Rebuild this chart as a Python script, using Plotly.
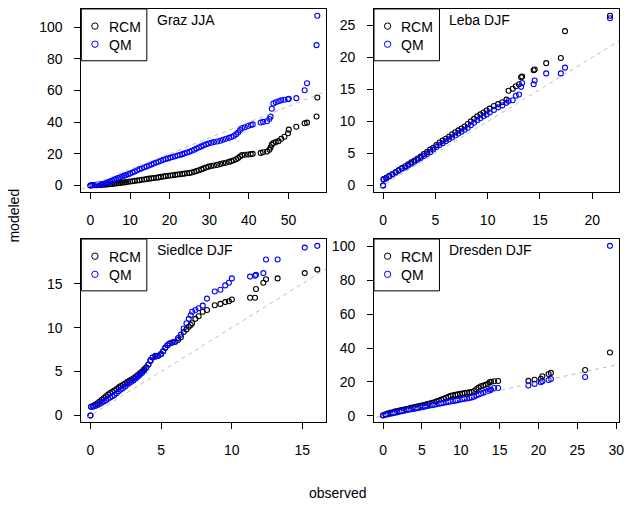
import plotly.graph_objects as go

# ---------------- data ----------------
graz_obs = [0, 0.5, 1, 1.5, 2, 2.5, 3, 3.5, 4, 4.5,
            5, 5.5, 6, 6.5, 7, 7.5, 8, 8.5, 9, 9.5,
            10, 10.6, 11.2, 11.8, 12.4, 13, 13.6, 14.2, 14.8, 15.4,
            16, 16.6, 17.2, 17.8, 18.4, 19, 19.6, 20.2, 20.8, 21.4,
            22, 22.6, 23.2, 23.8, 24.4, 25, 25.6, 26.2, 26.8, 27.4,
            28, 28.6, 29.2, 29.8, 30.5, 31.2, 32, 32.8, 33.5, 34.2,
            35, 35.6, 36.2, 36.8, 37.3, 37.8, 38.3, 39, 39.8, 40.5,
            41, 43, 43.6, 44.6, 45.2, 45.5, 45.8, 46.2, 46.8, 47.5,
            48.2, 49, 49.9, 50.1, 52, 54.1, 54.7, 57.1, 57.3]
graz_rcm = [0, 0.1, 0.2, 0.2, 0.3, 0.3, 0.4, 0.5, 0.6, 0.7,
            0.9, 1.0, 1.2, 1.3, 1.5, 1.6, 1.8, 1.9, 2.1, 2.3,
            2.5, 2.7, 2.9, 3.1, 3.3, 3.6, 3.8, 4.1, 4.3, 4.5,
            4.7, 4.9, 5.1, 5.4, 5.7, 5.9, 6.1, 6.3, 6.5, 6.7,
            6.9, 7.1, 7.3, 7.5, 7.7, 7.9, 8.2, 8.6, 9.1, 9.6,
            10.2, 10.8, 11.4, 11.9, 12.3, 12.6, 13.0, 13.5, 14.0, 14.4,
            14.9, 15.4, 15.9, 16.6, 17.3, 18.3, 19.2, 19.4, 19.6, 19.8,
            20.0, 20.6, 21.0, 21.4, 22.5, 24.0, 25.8, 26.8, 27.4, 28.0,
            29.5, 30.8, 33.0, 35.3, 37.1, 39.3, 39.7, 43.6, 55.6]
graz_qm = [0, 0.2, 0.3, 0.4, 0.5, 0.7, 0.9, 1.2, 1.6, 2.1,
           2.6, 3.1, 3.7, 4.2, 4.7, 5.2, 5.7, 6.2, 6.6, 7.1,
           7.5, 8.2, 8.9, 9.6, 10.3, 10.9, 11.5, 12.0, 12.6, 13.3,
           13.9, 14.5, 15.0, 15.6, 16.2, 16.7, 17.1, 17.6, 18.0, 18.5,
           18.9, 19.3, 19.8, 20.3, 20.8, 21.3, 21.9, 22.6, 23.3, 24.0,
           24.7, 25.4, 26.0, 26.5, 27.0, 27.4, 27.8, 28.3, 28.9, 29.5,
           30.1, 30.6, 31.3, 32.3, 33.5, 35.0, 36.3, 36.8, 37.6, 38.2,
           38.6, 39.8, 40.2, 40.6, 42.0, 43.5, 48.5, 51.8, 52.6, 53.2,
           53.8, 54.2, 54.5, 54.8, 55.2, 60.2, 64.6, 88.7, 107.3]

leba_obs = [0, 0.05, 0.3, 0.6, 0.9, 1.2, 1.5, 1.8, 2.1, 2.4,
            2.7, 3.0, 3.3, 3.6, 3.9, 4.2, 4.5, 4.8, 5.1, 5.4,
            5.7, 6.0, 6.3, 6.6, 6.9, 7.2, 7.5, 7.8, 8.1, 8.4,
            8.7, 9.0, 9.3, 9.6, 9.9, 10.2, 10.6, 11.0, 11.4, 11.8,
            12.0, 12.4, 12.7, 13.0, 13.2, 13.3, 14.4, 14.5, 15.6, 17.0,
            17.4, 21.7]
leba_rcm = [0, 1.0, 1.2, 1.5, 1.8, 2.1, 2.4, 2.7, 3.0, 3.3,
            3.6, 3.9, 4.2, 4.5, 4.9, 5.2, 5.6, 5.9, 6.3, 6.7,
            7.0, 7.3, 7.6, 8.0, 8.3, 8.6, 8.9, 9.2, 9.6, 10.0,
            10.4, 10.8, 11.1, 11.4, 11.7, 12.0, 12.4, 12.7, 13.0, 13.4,
            14.8, 15.1, 15.5, 15.8, 16.9, 17.0, 18.0, 18.1, 19.1, 19.9,
            24.1, 26.5]
leba_qm = [0, 0.9, 1.1, 1.4, 1.7, 2.0, 2.3, 2.6, 2.8, 3.1,
           3.4, 3.7, 4.0, 4.3, 4.6, 4.9, 5.2, 5.6, 6.0, 6.3,
           6.6, 6.9, 7.2, 7.5, 7.8, 8.1, 8.4, 8.7, 9.0, 9.4,
           9.8, 10.2, 10.5, 10.8, 11.1, 11.4, 11.8, 12.2, 12.5, 12.9,
           13.2, 13.3, 14.0, 14.2, 15.4, 16.0, 15.8, 16.4, 17.5, 17.5,
           18.4, 26.1]

sied_obs = [0, 0.05, 0.2, 0.35, 0.5, 0.65, 0.8, 0.95, 1.1, 1.25,
            1.4, 1.55, 1.7, 1.85, 2.0, 2.15, 2.3, 2.45, 2.6, 2.75,
            2.9, 3.05, 3.2, 3.35, 3.5, 3.65, 3.8, 3.95, 4.1, 4.25,
            4.4, 4.6, 4.8, 5.0, 5.15, 5.3, 5.45, 5.6, 5.8, 6.0,
            6.2, 6.4, 6.6, 6.8, 6.96, 7.1, 7.2, 7.43, 7.66, 7.95,
            8.25, 8.8, 9.2, 9.54, 9.8, 10.01, 11.3, 11.65, 11.72, 12.24,
            12.43, 13.25, 15.17, 16.06]
sied_rcm = [0, 1.0, 1.1, 1.25, 1.4, 1.6, 1.8, 2.0, 2.2, 2.4,
            2.55, 2.7, 2.85, 3.0, 3.2, 3.35, 3.5, 3.65, 3.8, 3.95,
            4.1, 4.25, 4.4, 4.6, 4.8, 5.0, 5.25, 5.5, 5.8, 6.2,
            6.6, 6.8, 6.8, 7.0, 7.3, 7.7, 8.0, 8.2, 8.3, 8.4,
            8.6, 8.9, 9.5, 9.8, 10.1, 10.3, 10.5, 11.0, 11.3, 11.8,
            12.0, 12.55, 12.7, 12.9, 13.0, 13.2, 13.4, 13.4, 14.4, 15.1,
            15.5, 15.6, 16.2, 16.6]
sied_qm = [0, 1.0, 1.0, 1.1, 1.2, 1.3, 1.45, 1.6, 1.75, 1.9,
           2.05, 2.2, 2.35, 2.55, 2.75, 2.95, 3.1, 3.3, 3.5, 3.7,
           3.85, 4.0, 4.2, 4.4, 4.6, 4.85, 5.1, 5.4, 5.8, 6.3,
           6.6, 6.7, 6.8, 7.0, 7.3, 7.7, 8.0, 8.2, 8.3, 8.4,
           8.8, 9.2, 9.9, 10.5, 11.0, 11.4, 11.8, 12.0, 12.2, 12.5,
           13.3, 14.1, 14.3, 14.8, 15.1, 15.6, 15.8, 15.9, 16.0, 16.2,
           17.75, 17.75, 19.1, 19.3]

dres_obs = [0, 0.3, 0.6, 0.9, 1.2, 1.5, 1.8, 2.1, 2.4, 2.7,
            3.0, 3.3, 3.6, 3.9, 4.2, 4.5, 4.8, 5.1, 5.4, 5.7,
            6.0, 6.3, 6.6, 6.9, 7.2, 7.5, 7.8, 8.1, 8.4, 8.7,
            9.0, 9.3, 9.6, 9.9, 10.2, 10.5, 10.8, 11.1, 11.4, 11.7,
            12.0, 12.3, 12.6, 12.9, 13.2, 13.5, 13.7, 13.9, 14.3, 14.8,
            18.7, 19.5, 20.3, 20.5, 21.3, 21.6, 26.0, 29.2]
dres_rcm = [0.3, 0.9, 1.3, 1.7, 2.0, 2.4, 2.7, 3.0, 3.3, 3.7,
            4.0, 4.3, 4.7, 5.0, 5.3, 5.6, 5.9, 6.2, 6.5, 6.9,
            7.2, 7.6, 8.0, 8.5, 9.0, 9.5, 10.0, 10.6, 11.2, 11.8,
            12.1, 12.3, 12.6, 12.9, 13.1, 13.4, 13.6, 13.8, 14.0, 14.6,
            15.6, 16.6, 17.4, 17.8, 18.3, 18.8, 19.8, 20.1, 20.4, 20.5,
            20.6, 21.3, 21.8, 23.3, 24.7, 25.3, 27.0, 37.4]
dres_qm = [0.1, 0.5, 0.8, 1.1, 1.4, 1.7, 2.0, 2.3, 2.6, 2.9,
           3.2, 3.5, 3.8, 4.0, 4.3, 4.6, 4.9, 5.1, 5.4, 5.7,
           6.0, 6.2, 6.5, 6.8, 7.1, 7.3, 7.6, 7.9, 8.2, 8.4,
           8.7, 8.9, 9.2, 9.5, 9.7, 10.0, 10.2, 10.5, 10.8, 11.2,
           12.0, 12.5, 13.1, 13.6, 14.2, 14.6, 15.0, 15.3, 16.4, 16.4,
           17.8, 18.8, 19.8, 20.4, 21.1, 21.7, 22.9, 100.4]

titles = ["Graz JJA", "Leba DJF", "Siedlce DJF", "Dresden DJF"]
x_tick_vals = [[0, 10, 20, 30, 40, 50], [0, 5, 10, 15, 20],
               [0, 5, 10, 15], [0, 5, 10, 15, 20, 25, 30]]
y_tick_vals = [[0, 20, 40, 60, 80, 100], [0, 5, 10, 15, 20, 25],
               [0, 5, 10, 15], [0, 20, 40, 60, 80, 100]]
series_names = ["RCM", "QM"]
series_colors = ["#000000", "#0000FF"]
x_title = "observed"
y_title = "modeled"

# ---------------- layout / styling ----------------
W, H = 630, 508
FONT = "Liberation Sans, Arial, Helvetica, sans-serif"
FS = 14
col_px = [(82, 329), (377, 624)]
row_px = [(8, 192), (239, 423)]

panels = [(graz_obs, graz_rcm, graz_qm), (leba_obs, leba_rcm, leba_qm),
          (sied_obs, sied_rcm, sied_qm), (dres_obs, dres_rcm, dres_qm)]


def r_range(vals):
    lo, hi = min(vals), max(vals)
    pad = 0.04 * (hi - lo)
    return [lo - pad, hi + pad]


fig = go.Figure()
axes = {}
shapes = []
annotations = []

for i, (obs, rcm, qm) in enumerate(panels):
    k = i + 1
    sfx = "" if k == 1 else str(k)
    col, row = i % 2, i // 2
    x0p, x1p = col_px[col]
    y0p, y1p = row_px[row]
    pw, ph = x1p - x0p, y1p - y0p
    xr = r_range(obs)
    yr = r_range(list(rcm) + list(qm))

    for name, vals, color in zip(series_names, (rcm, qm), series_colors):
        fig.add_trace(go.Scatter(
            x=obs, y=vals, mode="markers", name=name, showlegend=False,
            marker=dict(symbol="circle-open", size=5, color=color,
                        line=dict(width=1.1, color=color)),
            xaxis="x" + sfx, yaxis="y" + sfx, hoverinfo="skip"))

    common = dict(showline=True, mirror=True, linecolor="#000000", linewidth=1,
                  ticks="outside", ticklen=6, tickwidth=1, tickcolor="#000000",
                  showgrid=False, zeroline=False, ticklabelstandoff=9,
                  tickfont=dict(family=FONT, size=FS, color="#000000"))
    axes["xaxis" + sfx] = dict(domain=[x0p / W, x1p / W], range=xr,
                               tickmode="array", tickvals=x_tick_vals[i],
                               anchor="y" + sfx, **common)
    axes["yaxis" + sfx] = dict(domain=[1 - y1p / H, 1 - y0p / H], range=yr,
                               tickmode="array", tickvals=y_tick_vals[i],
                               anchor="x" + sfx, **common)

    # 1:1 reference line (clipped to the plot area)
    lo, hi = min(xr[0], yr[0]), max(xr[1], yr[1])
    shapes.append(dict(type="line", xref="x" + sfx, yref="y" + sfx,
                       x0=lo, y0=lo, x1=hi, y1=hi, layer="above",
                       line=dict(color="#BEBEBE", width=1, dash="4px,4px")))

    xd, yd = "x" + sfx + " domain", "y" + sfx + " domain"
    # legend box
    shapes.append(dict(type="rect", xref=xd, yref=yd, x0=0, x1=66 / pw,
                       y0=1 - 52 / ph, y1=1, line=dict(color="#000000", width=1),
                       fillcolor="rgba(0,0,0,0)"))
    for j, (name, color) in enumerate(zip(series_names, series_colors)):
        cy = 17.2 + 18.2 * j
        r = 3.2
        shapes.append(dict(type="circle", xref=xd, yref=yd,
                           x0=(13.7 - r) / pw, x1=(13.7 + r) / pw,
                           y0=1 - (cy + r) / ph, y1=1 - (cy - r) / ph,
                           line=dict(color=color, width=1)))
        annotations.append(dict(text=name, xref=xd, yref=yd, x=25.5 / pw,
                                y=1 - (cy + 0.8) / ph, xanchor="left", yanchor="middle",
                                showarrow=False,
                                font=dict(family=FONT, size=FS, color="#000000")))
    # panel title
    annotations.append(dict(text=titles[i], xref=xd, yref=yd, x=74 / pw,
                            y=1 - 11 / ph, xanchor="left", yanchor="middle",
                            showarrow=False,
                            font=dict(family=FONT, size=FS, color="#000000")))

annotations.append(dict(text=y_title, xref="paper", yref="paper", x=14 / W,
                        y=1 - 215.5 / H, textangle=-90, showarrow=False,
                        xanchor="center", yanchor="middle",
                        font=dict(family=FONT, size=FS, color="#000000")))
annotations.append(dict(text=x_title, xref="paper", yref="paper", x=341 / W,
                        y=1 - 494 / H, showarrow=False,
                        xanchor="center", yanchor="middle",
                        font=dict(family=FONT, size=FS, color="#000000")))

fig.update_layout(width=W, height=H, autosize=False,
                  margin=dict(l=0, r=0, t=0, b=0, pad=0),
                  paper_bgcolor="#FFFFFF", plot_bgcolor="#FFFFFF",
                  showlegend=False, font=dict(family=FONT, size=FS, color="#000000"),
                  shapes=shapes, annotations=annotations, **axes)

fig.write_html("out.html", config={"displayModeBar": False, "staticPlot": True})
